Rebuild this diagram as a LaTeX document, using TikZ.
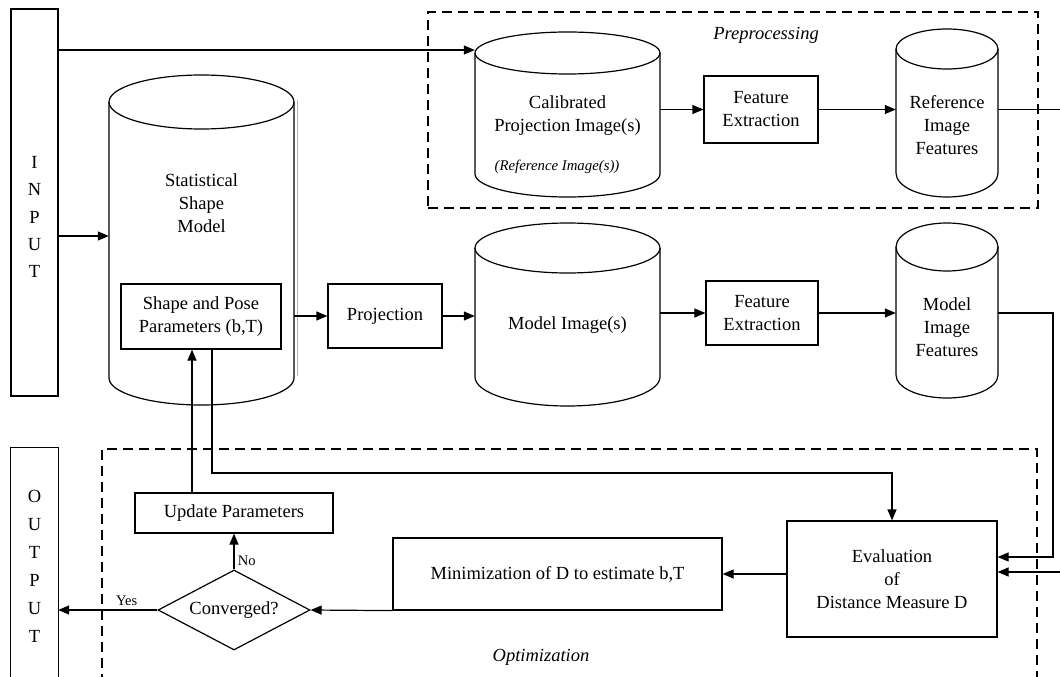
\documentclass[tikz,border=0pt]{standalone}
\usepackage{fontspec}
\setmainfont{Liberation Serif}
\usetikzlibrary{arrows.meta,shapes.geometric}
\begin{document}
\begin{tikzpicture}[x=1pt,y=-1pt,
  every node/.style={font=\fontsize{18.5}{23}\selectfont, align=center},
  box/.style={draw, line width=1.2pt, inner sep=0pt},
  ghost/.style={inner sep=0pt},
  line/.style={line width=1.2pt},
  arr/.style={line width=1.2pt, -{Triangle[length=11pt,width=9pt]}},
  dbox/.style={draw, line width=1.1pt, dash pattern=on 10pt off 6pt, inner sep=0pt},
  lbl/.style={font=\fontsize{14.5}{17}\selectfont},
  ital/.style={font=\fontsize{18.5}{23}\selectfont\itshape},
]
\useasboundingbox (0,0) rectangle (1060,677);
\clip (0,0) rectangle (1060,677);

% dashed groups
\node[dbox, minimum width=610pt, minimum height=196pt] (pre) at (733,110) {};
\node[ital] (pretxt) at (766,35) {Preprocessing};
\node[dbox, minimum width=935pt, minimum height=241pt] (opt) at (569.5,569.5) {};
\node[ital] (opttxt) at (541,657) {Optimization};

% INPUT / OUTPUT
\node[box, minimum width=47pt, minimum height=387pt] (in) at (34.5,202.5) {};
\node[font=\fontsize{18.5}{27.2}\selectfont] (intxt) at (34.5,217) {I\\N\\P\\U\\T};
\node[ghost, minimum width=47pt, minimum height=229pt] (out) at (34.5,562.5) {};
\draw[line] (out.south west) -- (out.north west) -- (out.north east) -- (out.south east);
\node[font=\fontsize{18.5}{28}\selectfont] (outtxt) at (34.5,566) {O\\U\\T\\P\\U\\T};

% cylinders (bodies as named nodes)
\node[ghost, minimum width=185pt, minimum height=330pt] (stat) at (201.5,240) {};
\draw[line] (201.5,102) ellipse [x radius=92.5pt, y radius=27pt];
\draw[line] (109,102) -- (109,378) arc[start angle=180,end angle=360,x radius=92.5pt,y radius=27pt] -- (294,102);
\draw[gray!60, line width=0.7pt] (297.5,100) -- (297.5,376);
\node (stattxt) at (201.5,203) {Statistical\\Shape\\Model};

\node[ghost, minimum width=185pt, minimum height=165pt] (cal) at (567.5,114.5) {};
\draw[line] (567.5,53) ellipse [x radius=92.5pt, y radius=21pt];
\draw[line] (475,53) -- (475,174) arc[start angle=180,end angle=360,x radius=92.5pt,y radius=23pt] -- (660,53);
\node (caltxt) at (567.5,116) {Calibrated\\Projection Image(s)};
\node[font=\fontsize{14.8}{17}\selectfont\itshape] (calref) at (557,167) {(Reference Image(s))};

\node[ghost, minimum width=102pt, minimum height=168pt] (rif) at (947,113) {};
\draw[line] (947,49) ellipse [x radius=51pt, y radius=20pt];
\draw[line] (896,49) -- (896,173) arc[start angle=180,end angle=360,x radius=51pt,y radius=24pt] -- (998,49);
\node (riftxt) at (947,125) {Reference\\Image\\Features};

\node[ghost, minimum width=185pt, minimum height=183pt] (mi) at (567.5,314.5) {};
\draw[line] (567.5,248) ellipse [x radius=92.5pt, y radius=25pt];
\draw[line] (475,248) -- (475,377) arc[start angle=180,end angle=360,x radius=92.5pt,y radius=29pt] -- (660,248);
\node (mitxt) at (567.5,325) {Model Image(s)};

\node[ghost, minimum width=102pt, minimum height=175pt] (mif) at (947,310.5) {};
\draw[line] (947,247) ellipse [x radius=51pt, y radius=24pt];
\draw[line] (896,247) -- (896,375) arc[start angle=180,end angle=360,x radius=51pt,y radius=23pt] -- (998,247);
\node (miftxt) at (947,327) {Model\\Image\\Features};

% boxes
\node[box, minimum width=160pt, minimum height=65pt] (sp) at (201,316.5) {Shape and Pose\\Parameters (b,T)};
\node[box, minimum width=114pt, minimum height=64pt] (proj) at (385,316) {Projection};
\node[box, minimum width=114pt, minimum height=67pt] (fe1) at (761,109.5) {Feature\\Extraction};
\node[box, minimum width=112pt, minimum height=64pt] (fe2) at (762,313) {Feature\\Extraction};
\node[box, minimum width=198pt, minimum height=40pt] (upd) at (234,513) {Update Parameters};
\node[draw, line width=1.2pt, diamond, aspect=1.9, minimum width=152pt, minimum height=80pt, inner sep=0pt] (conv) at (234,610) {Converged?};
\node[box, minimum width=329pt, minimum height=72pt] (mini) at (557.5,574) {Minimization of D to estimate b,T};
\node[box, minimum width=210pt, minimum height=116pt] (eval) at (892,579) {Evaluation\\of\\Distance Measure D};

% connectors
\draw[arr] (in.east |- 0,50) -- (cal.west |- 0,50);
\draw[arr] (in.east |- 0,236) -- (stat.west |- 0,236);
\draw[arr] (cal.east |- fe1.west) -- (fe1.west);
\draw[arr] (fe1.east) -- (rif.west |- fe1.east);
\draw[arr] (rif.east |- fe1.east) -- (1064,109.5) -- (1064,572) -- (eval.east |- 0,572);
\draw[arr] (stat.east |- proj.west) -- (proj.west);
\draw[arr] (proj.east) -- (mi.west |- proj.east);
\draw[arr] (mi.east |- fe2.west) -- (fe2.west);
\draw[arr] (fe2.east) -- (mif.west |- fe2.east);
\draw[arr] (mif.east |- fe2.east) -| (1053,557) -- (eval.east |- 0,557);
\draw[arr] (sp.south -| 212,0) |- (eval.north |- 0,473) -- (eval.north);
\draw[arr] (upd.north -| 192,0) -- (sp.south -| 192,0);
\draw[arr] (eval.west |- mini.east) -- (mini.east);
\draw[arr] (mini.south west) -- (conv.east);
\draw[arr] (conv.west) -- node[lbl, above, pos=0.31] {Yes} (out.east |- conv.west);
\draw[arr] (conv.north) -- node[lbl, right, pos=0.25] {No} (upd.south);
\end{tikzpicture}
\end{document}
